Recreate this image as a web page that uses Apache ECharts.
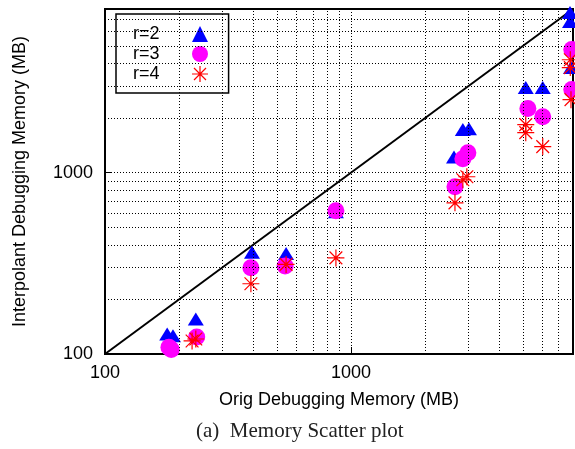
<!DOCTYPE html>
<html>
<head>
<meta charset="utf-8">
<script src="https://cdn.jsdelivr.net/npm/echarts@6/dist/echarts.min.js"></script>
<style>
html,body{margin:0;padding:0;background:#fff;}
#chart{width:575px;height:449px;}
</style>
</head>
<body>
<div id="chart"></div>
<script>
// ---- data ----
const seriesNames = ['r=2', 'r=3', 'r=4'];
const r2X = [179, 189, 234, 396, 545, 869, 2625, 2852, 3020, 5140, 6026, 7780, 7780, 7850];
const r2Y = [129, 126, 156, 364, 358, 610, 1219, 1729, 1750, 2949, 2949, 7656, 6823, 3800];
const r3X = [182, 186, 236, 392, 540, 869, 2649, 2852, 2990, 5243, 6026, 7909, 7909];
const r3Y = [109, 106, 124, 299, 306, 617, 837, 1194, 1289, 2259, 2036, 4786, 2874];
const r4X = [234, 226, 392, 545, 869, 2649, 2852, 2961, 5140, 5140, 6026, 7800, 7800, 7850];
const r4Y = [121, 118, 244, 312, 339, 682, 914, 950, 1841, 1663, 1393, 4200, 3800, 2530];
const diagonal = [[100, 100], [8000, 8000]];
const axisMin = 100, axisMax = 8000;
const minorGridValues = [200, 300, 400, 500, 600, 700, 800, 900, 2000, 3000, 4000, 5000, 6000, 7000];
const xTitle = 'Orig Debugging Memory (MB)';
const yTitle = 'Interpolant Debugging Memory (MB)';
const caption = '(a)  Memory Scatter plot';

const pairs = (xs, ys) => xs.map((x, i) => [x, ys[i]]);
const starPath = 'path://M0,10L20,10M10,0L10,20M2.5,2.5L17.5,17.5M17.5,2.5L2.5,17.5';
const FONT = 'Liberation Sans, Arial, Helvetica, sans-serif';

const chart = echarts.init(document.getElementById('chart'), null, {renderer: 'canvas'});
const gridLineStyle = {color: '#000', width: 1, type: [1, 2]};

const option = {
  animation: false,
  backgroundColor: '#fff',
  grid: {left: 105, top: 9, right: 2, bottom: 95, show: true, borderColor: '#000', borderWidth: 2,
    backgroundColor: 'transparent', containLabel: false, outerBoundsMode: 'none'},
  xAxis: {
    type: 'log', logBase: 10, min: axisMin, max: axisMax,
    name: xTitle, nameLocation: 'middle', nameGap: 37,
    nameTextStyle: {fontFamily: FONT, fontSize: 18, color: '#000'},
    axisLine: {show: true, lineStyle: {color: '#000', width: 2}},
    axisTick: {show: true, inside: true, length: 7, lineStyle: {color: '#000', width: 1}},
    axisLabel: {fontFamily: FONT, fontSize: 18, color: '#000', margin: 10, showMaxLabel: false,
      formatter: v => String(Math.round(v))},
    splitLine: {show: true, lineStyle: gridLineStyle}
  },
  yAxis: {
    type: 'log', logBase: 10, min: axisMin, max: axisMax,
    name: yTitle, nameLocation: 'middle', nameGap: 76,
    nameTextStyle: {fontFamily: FONT, fontSize: 18, color: '#000'},
    axisLine: {show: true, lineStyle: {color: '#000', width: 2}},
    axisTick: {show: true, inside: true, length: 7, lineStyle: {color: '#000', width: 1}},
    axisLabel: {fontFamily: FONT, fontSize: 18, color: '#000', margin: 12, showMaxLabel: false,
      formatter: v => String(Math.round(v))},
    splitLine: {show: true, lineStyle: gridLineStyle}
  },
  legend: {
    orient: 'vertical', left: 116, top: 14, align: 'right',
    backgroundColor: '#fff', borderColor: '#000', borderWidth: 1.5,
    padding: [11, 20, 10, 17], itemGap: 2, itemWidth: 16, itemHeight: 16,
    formatter: '{t|{name}}',
    textStyle: {fontFamily: FONT, fontSize: 18, color: '#000', lineHeight: 16,
      rich: {t: {fontFamily: FONT, fontSize: 18, color: '#000', width: 54, align: 'left', lineHeight: 16}}},
    data: [
      {name: seriesNames[0], icon: 'triangle', itemStyle: {color: '#0000ff', borderWidth: 0}},
      {name: seriesNames[1], icon: 'circle', itemStyle: {color: '#ff00ff', borderWidth: 0}},
      {name: seriesNames[2], icon: starPath, itemStyle: {color: 'transparent', borderColor: '#ff0000', borderWidth: 1.2}}
    ]
  },
  graphic: [{
    type: 'text', left: 196, top: 421,
    style: {text: caption, font: '21px "Liberation Serif", "Times New Roman", serif', fill: '#222'}
  }],
  series: [
    {
      type: 'line', data: diagonal, symbol: 'none', silent: true,
      lineStyle: {color: '#000', width: 2}, z: 1,
      markLine: {
        silent: true, symbol: 'none', label: {show: false},
        lineStyle: gridLineStyle,
        data: minorGridValues.map(v => ({xAxis: v})).concat(minorGridValues.map(v => ({yAxis: v})))
      }
    },
    {
      name: seriesNames[0], type: 'scatter', data: pairs(r2X, r2Y),
      symbol: 'triangle', symbolSize: [16, 13], z: 3,
      itemStyle: {color: '#0000ff', opacity: 1}
    },
    {
      name: seriesNames[1], type: 'scatter', data: pairs(r3X, r3Y),
      symbol: 'circle', symbolSize: 17, z: 4,
      itemStyle: {color: '#ff00ff', opacity: 1}
    },
    {
      name: seriesNames[2], type: 'scatter', data: pairs(r4X, r4Y),
      symbol: starPath, symbolSize: 17, z: 5,
      itemStyle: {color: 'transparent', borderColor: '#ff0000', borderWidth: 1.2, opacity: 1}
    }
  ]
};
chart.setOption(option);
</script>
</body>
</html>
